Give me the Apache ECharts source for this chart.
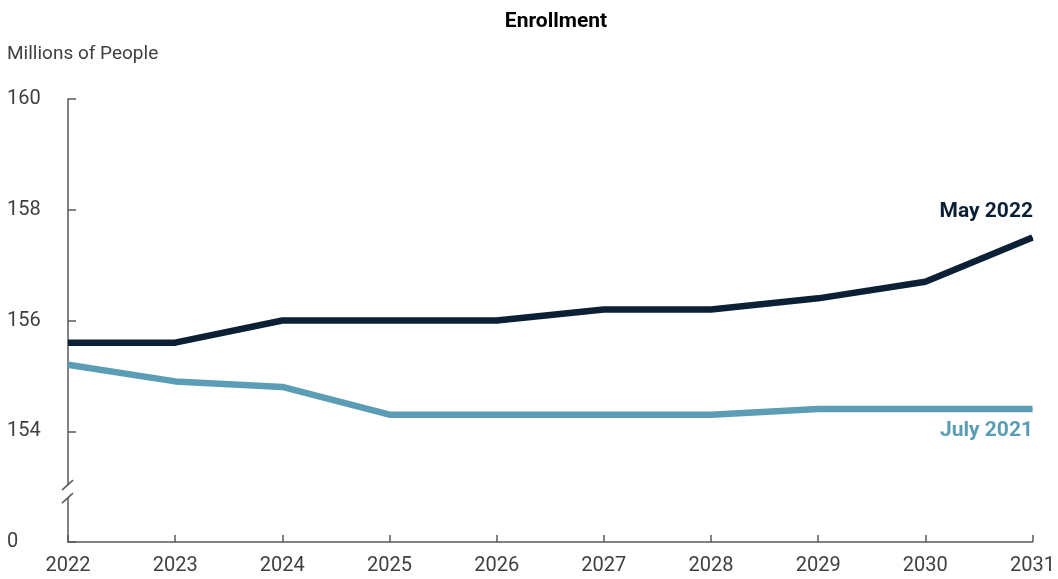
<!DOCTYPE html>
<html>
<head>
<meta charset="utf-8">
<script src="https://cdn.jsdelivr.net/npm/echarts@6/dist/echarts.min.js"></script>
<style>
  html, body { margin: 0; padding: 0; background: #fff; }
  #chart { width: 1058px; height: 579px; }
</style>
</head>
<body>
<div id="chart"></div>
<script>
// Projected enrollment, millions of people
const years = ['2022', '2023', '2024', '2025', '2026', '2027', '2028', '2029', '2030', '2031'];
const may2022 = [155.6, 155.6, 156.0, 156.0, 156.0, 156.2, 156.2, 156.4, 156.7, 157.5];
const july2021 = [155.2, 154.9, 154.8, 154.3, 154.3, 154.3, 154.3, 154.4, 154.4, 154.4];
// The bottom of the value axis stands for zero (axis is broken below 154)
const yMin = 152, yMax = 160, yStep = 2;
const yTickLabels = { 152: '0', 154: '154', 156: '156', 158: '158', 160: '160' };

const navy = '#0b2035';
const teal = '#5b9db5';
const axisGray = '#595959';
const font = 'Roboto, "Noto Sans", sans-serif';

const chart = echarts.init(document.getElementById('chart'));

function endLabel(name, color, offsetY) {
  return {
    show: true,
    position: 'left',
    distance: 0,
    offset: [1, offsetY],
    formatter: name,
    color: color,
    fontFamily: font,
    fontSize: 21,
    fontWeight: 'bold'
  };
}

function withEndLabel(values, name, color, offsetY) {
  return values.map((v, i) => i === values.length - 1
    ? { value: v, label: endLabel(name, color, offsetY) }
    : v);
}

function lineSeries(name, values, color, offsetY, z) {
  return {
    name: name,
    type: 'line',
    data: withEndLabel(values, name, color, offsetY),
    symbol: 'circle',
    symbolSize: 1,
    showSymbol: true,
    lineStyle: { color: color, width: 6.5 },
    itemStyle: { color: color },
    label: { show: false },
    z: z
  };
}

chart.setOption({
  animation: false,
  title: {
    text: 'Enrollment',
    left: 551,
    textAlign: 'center',
    top: 6,
    textStyle: { fontFamily: font, fontSize: 21, fontWeight: 'bold', color: '#000' }
  },
  grid: { left: 68, right: 24, top: 99, bottom: 37, containLabel: false },
  xAxis: {
    type: 'category',
    data: years,
    boundaryGap: false,
    axisLine: { lineStyle: { color: axisGray, width: 1.5 } },
    axisTick: { inside: true, length: 7, lineStyle: { color: axisGray, width: 1.5 } },
    axisLabel: { color: '#404040', fontFamily: font, fontSize: 20, margin: 14, showMaxLabel: true, showMinLabel: true },
    splitLine: { show: false }
  },
  yAxis: {
    type: 'value',
    min: yMin,
    max: yMax,
    interval: yStep,
    name: 'Millions of People',
    nameLocation: 'end',
    nameGap: 35,
    nameTextStyle: { color: '#404040', fontFamily: font, fontSize: 19, align: 'left', padding: [0, 0, 0, -61] },
    axisLine: { show: true, lineStyle: { color: axisGray, width: 1.5 } },
    axisTick: { show: true, inside: true, length: 8, lineStyle: { color: axisGray, width: 1.5 } },
    axisLabel: {
      color: '#404040', fontFamily: font, fontSize: 20, align: 'left', margin: 61,
      formatter: v => yTickLabels[v] !== undefined ? yTickLabels[v] : ''
    },
    splitLine: { show: false }
  },
  series: [
    lineSeries('May 2022', may2022, navy, -26, 3),
    lineSeries('July 2021', july2021, teal, 22, 2)
  ]
});

// Axis break marks between 154 and zero
function drawBreak() {
  const x0 = chart.convertToPixel({ gridIndex: 0 }, [years[0], 153])[0];
  const yMid = chart.convertToPixel({ yAxisIndex: 0 }, 152.91);
  const half = 5, gap = 13;
  const yA = yMid - gap / 2, yB = yMid + gap / 2;
  chart.setOption({
    graphic: [
      { type: 'rect', shape: { x: x0 - 3, y: yA, width: 6, height: yB - yA }, style: { fill: '#fff' }, z: 100 },
      { type: 'line', shape: { x1: x0 - 6, y1: yA + half, x2: x0 + 5, y2: yA - half }, style: { stroke: axisGray, lineWidth: 1.5 }, z: 101 },
      { type: 'line', shape: { x1: x0 - 6, y1: yB + half, x2: x0 + 5, y2: yB - half }, style: { stroke: axisGray, lineWidth: 1.5 }, z: 101 }
    ]
  });
}
drawBreak();
</script>
</body>
</html>
